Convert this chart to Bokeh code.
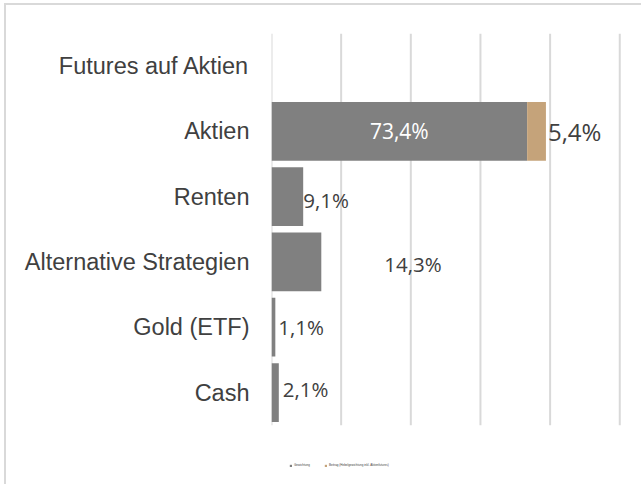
from bokeh.plotting import figure
from bokeh.models import ColumnDataSource, Legend, LegendItem, FixedTicker
from bokeh.core.properties import value
from bokeh.embed import file_html
from bokeh.resources import INLINE

categories = ["Futures auf Aktien", "Aktien", "Renten", "Alternative Strategien", "Gold (ETF)", "Cash"]
gewichtung = [0.0, 73.4, 9.1, 14.3, 1.1, 2.1]
futures = [0.0, 5.4, 0.0, 0.0, 0.0, 0.0]
series_names = ["Gewichtung", "Beitrag (Hebelgewichtung inkl. Aktienfutures)"]
x_ticks = [0, 20, 40, 60, 80, 100]

n = len(categories)
ypos = [n - 1 - k for k in range(n)]  # top category first

p = figure(width=637, height=481, y_range=(-1.44, n - 0.5), x_range=(0, 100.5),
           output_backend="svg", toolbar_location=None,
           min_border_left=265, min_border_right=22, min_border_top=28, min_border_bottom=0)
p.styles = {"border-left": "2px solid #d9d9d9", "border-top": "2px solid #d9d9d9",
            "margin-left": "4px", "margin-top": "3px"}

# vertical grid lines limited to the category area
p.segment(x0=x_ticks, x1=x_ticks, y0=[-0.5] * len(x_ticks), y1=[n - 0.5] * len(x_ticks),
          line_color="#d9d9d9", line_width=2)

src = ColumnDataSource(dict(y=ypos, g=gewichtung, f=futures))
r = p.hbar_stack(["g", "f"], y="y", height=0.9, source=src,
                 color=["#808080", "#c5a37a"], line_color=None)

p.xaxis.visible = False
p.xgrid.grid_line_color = None
p.ygrid.grid_line_color = None
p.outline_line_color = None

p.yaxis.ticker = FixedTicker(ticks=ypos)
p.yaxis.major_label_overrides = {yv: c for yv, c in zip(ypos, categories)}
p.yaxis.axis_line_color = None
p.yaxis.major_tick_line_color = None
p.yaxis.minor_tick_line_color = None
p.yaxis.major_label_text_font = "Liberation Sans"
p.yaxis.major_label_text_font_size = "23.5px"
p.yaxis.major_label_text_color = "#404040"
p.yaxis.major_label_standoff = 16

font = value("Open Sans")

def fmt(v):
    return f"{v:.1f}%".replace(".", ",")

# Aktien main label (inside bar, white)
i = 1
p.text(x=[gewichtung[i] / 2], y=[ypos[i]], text=[fmt(gewichtung[i])],
       text_align="center", text_baseline="middle", text_color="white",
       text_font=font, text_font_size="21px")
# Futures contribution label
p.text(x=[gewichtung[i] + futures[i]], y=[ypos[i]], text=[fmt(futures[i])],
       text_align="left", text_baseline="middle", text_color="#404040",
       text_font=font, text_font_size="24px", x_offset=2, y_offset=0)
# Other labels
offs = {2: (0, 3), 3: (63, 2), 4: (3, 0), 5: (4, -4)}
for idx, (dx, dy) in offs.items():
    p.text(x=[gewichtung[idx]], y=[ypos[idx]], text=[fmt(gewichtung[idx])],
           text_align="left", text_baseline="middle", text_color="#404040",
           text_font=font, text_font_size="20.5px", x_offset=dx, y_offset=dy)

legend = Legend(items=[LegendItem(label=series_names[0], renderers=[r[0]]),
                       LegendItem(label=series_names[1], renderers=[r[1]])],
                orientation="horizontal", location=(18, 19),
                label_text_font_size="3px", label_text_color="#404040",
                glyph_width=3, glyph_height=3, label_standoff=2, spacing=10,
                padding=0, margin=0, border_line_color=None,
                background_fill_alpha=0, label_height=3)
p.add_layout(legend, "center")

open("out.html", "w").write(file_html(p, INLINE))
